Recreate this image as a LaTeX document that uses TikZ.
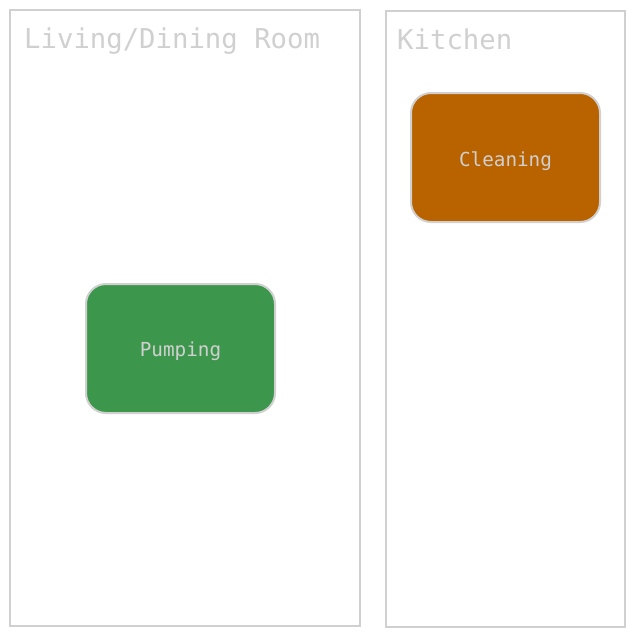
\documentclass[tikz,border=0pt]{standalone}
\usepackage{fontspec}
\setmonofont{DejaVu Sans Mono}
\definecolor{edge}{HTML}{D0D0D0}
\definecolor{txt}{HTML}{D0D0D0}
\definecolor{pumpgreen}{HTML}{3C974C}
\definecolor{cleanorange}{HTML}{B86200}
\tikzset{
  room/.style={draw=edge, line width=2pt, fill=white},
  task/.style={draw=edge, line width=2pt, rounded corners=20pt},
  roomtitle/.style={anchor=base west, inner sep=0pt, text=txt, font=\ttfamily\fontsize{27.3}{27.3}\selectfont},
  tasklabel/.style={anchor=base, inner sep=0pt, text=txt, font=\ttfamily\fontsize{19.3}{19.3}\selectfont}
}
\begin{document}
\begin{tikzpicture}[x=1pt,y=-1pt]
\useasboundingbox[fill=white] (0,0) rectangle (635,637);
\draw[room] (10,10) rectangle (360,626);
\draw[room] (386,11) rectangle (625,627);
\node[roomtitle] (t1) at (24,48.5) {Living/Dining Room};
\node[roomtitle] (t2) at (397,49.5) {Kitchen};
\draw[task, fill=pumpgreen] (86,284) rectangle (275,413);
\draw[task, fill=cleanorange] (411,93) rectangle (600,222);
\node[tasklabel] (p) at (180.5,356) {Pumping};
\node[tasklabel] (c) at (505.5,166) {Cleaning};
\end{tikzpicture}
\end{document}
